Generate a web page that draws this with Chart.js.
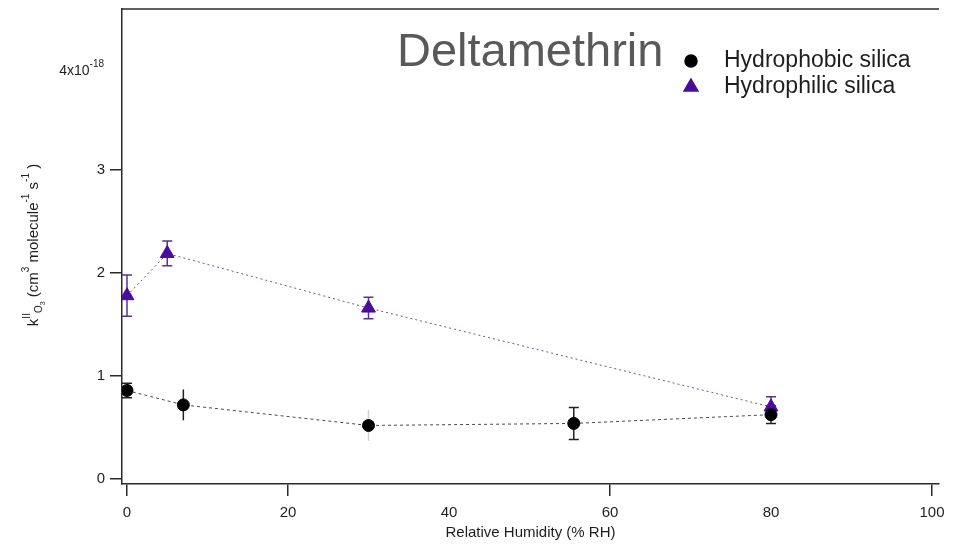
<!DOCTYPE html>
<html>
<head>
<meta charset="utf-8">
<script src="https://cdn.jsdelivr.net/npm/chart.js@4.4.1/dist/chart.umd.min.js"></script>
<style>
  html, body { margin: 0; padding: 0; background: #fff; }
  #wrap { width: 957px; height: 547px; position: relative; }
</style>
</head>
<body>
<div id="wrap"><canvas id="chart"></canvas></div>
<script>
// ── 資料 ────────────────────────────────────────────────────────────────────
// 相對濕度 (% RH) 與 k^II_O3 (×10^-18 cm^3 molecule^-1 s^-1)
const hydrophobicRH  = [0, 7, 30, 55.5, 80];
const hydrophobicK   = [0.86, 0.72, 0.52, 0.54, 0.625];
const hydrophobicErr = [0.07, 0.15, 0.15, 0.155, 0.085];

const hydrophilicRH  = [0, 5, 30, 80];
const hydrophilicK   = [1.78, 2.19, 1.66, 0.70];
const hydrophilicErr = [0.20, 0.12, 0.105, 0.10];

const xTickValues = [0, 20, 40, 60, 80, 100];
const xTickMarked = [0, 20, 60, 100];
const yTickValues = [0, 1, 2, 3, 4];

const titleText = 'Deltamethrin';
const seriesNames = ['Hydrophobic silica', 'Hydrophilic silica'];
const xTitle = 'Relative Humidity (% RH)';

// ── 樣式 ────────────────────────────────────────────────────────────────────
const FONT = "'Liberation Sans', Arial, Helvetica, sans-serif";
const AXIS_COLOR = '#2a2a2a';
const TEXT_COLOR = '#1e1e1e';
const PURPLE = '#4b0c9c';

function toPoints(xs, ys) {
  return xs.map(function (x, i) { return { x: x, y: ys[i] }; });
}

// ── 誤差棒 ──────────────────────────────────────────────────────────────────
const errorBarPlugin = {
  id: 'errorBars',
  beforeDatasetsDraw(chart) {
    const ctx = chart.ctx;
    const yScale = chart.scales.y;
    chart.data.datasets.forEach(function (ds, i) {
      const meta = chart.getDatasetMeta(i);
      ctx.save();
      ctx.lineWidth = 1.5;
      meta.data.forEach(function (pt, j) {
        const v = ds.data[j].y, e = ds.errors[j];
        const top = yScale.getPixelForValue(v + e);
        const bot = yScale.getPixelForValue(v - e);
        const faint = ds.faintBars && ds.faintBars.indexOf(j) >= 0;
        const capped = !(ds.noCaps && ds.noCaps.indexOf(j) >= 0);
        ctx.strokeStyle = faint ? 'rgba(0,0,0,0.18)' : ds.errorColor;
        ctx.beginPath();
        ctx.moveTo(pt.x, top);
        ctx.lineTo(pt.x, bot);
        if (capped && !faint) {
          ctx.moveTo(pt.x - 5, top); ctx.lineTo(pt.x + 5, top);
          ctx.moveTo(pt.x - 5, bot); ctx.lineTo(pt.x + 5, bot);
        }
        ctx.stroke();
      });
      ctx.restore();
    });
  }
};

// ── 標題、圖例、軸標題與上框線 ──────────────────────────────────────────────
function drawRich(ctx, segs, x, y) {
  segs.forEach(function (s) {
    ctx.font = s.size + 'px ' + FONT;
    ctx.fillText(s.t, x, y + s.dy);
    x += ctx.measureText(s.t).width;
  });
}
function richWidth(ctx, segs) {
  let w = 0;
  segs.forEach(function (s) {
    ctx.font = s.size + 'px ' + FONT;
    w += ctx.measureText(s.t).width;
  });
  return w;
}

const yTitleSegs = [
  { t: 'k', size: 15, dy: 0 },
  { t: 'II', size: 10, dy: -8 },
  { t: 'O', size: 10, dy: 4 },
  { t: '3', size: 7, dy: 7 },
  { t: ' (cm', size: 15, dy: 0 },
  { t: '3', size: 10, dy: -9 },
  { t: ' molecule', size: 15, dy: 0 },
  { t: '-1', size: 10, dy: -9 },
  { t: ' s', size: 15, dy: 0 },
  { t: '-1', size: 10, dy: -9 },
  { t: ' )', size: 15, dy: 0 }
];

const decorPlugin = {
  id: 'decor',
  afterDraw(chart) {
    const ctx = chart.ctx;
    const area = chart.chartArea;
    const yScale = chart.scales.y;
    ctx.save();

    // 上框線
    ctx.strokeStyle = AXIS_COLOR;
    ctx.lineWidth = 1.5;
    ctx.beginPath();
    ctx.moveTo(area.left, area.top);
    ctx.lineTo(area.right, area.top);
    ctx.stroke();

    // y 軸頂端刻度 4x10^-18
    ctx.fillStyle = TEXT_COLOR;
    ctx.textBaseline = 'alphabetic';
    ctx.textAlign = 'left';
    const y4 = yScale.getPixelForValue(yTickValues[4]);
    const expSegs = [{ t: '4x10', size: 14, dy: 0 }, { t: '-18', size: 10, dy: -8 }];
    drawRich(ctx, expSegs, 104 - richWidth(ctx, expSegs), y4 + 8);

    // y 軸標題（旋轉）
    ctx.translate(38, 245);
    ctx.rotate(-Math.PI / 2);
    drawRich(ctx, yTitleSegs, -richWidth(ctx, yTitleSegs) / 2, 0);
    ctx.setTransform(1, 0, 0, 1, 0, 0);

    // 標題
    ctx.fillStyle = '#595959';
    ctx.font = '47px ' + FONT;
    ctx.textBaseline = 'middle';
    ctx.fillText(titleText, 397, 53);

    // 圖例
    ctx.font = '23px ' + FONT;
    chart.data.datasets.forEach(function (ds, i) {
      const ly = 61 + i * 26;
      ctx.save();
      ctx.fillStyle = ds.pointBackgroundColor;
      ctx.strokeStyle = ds.pointBorderColor;
      Chart.helpers.drawPoint(ctx, {
        pointStyle: ds.pointStyle, radius: ds.pointRadius, rotation: 0, borderWidth: 1
      }, 691, ly);
      ctx.restore();
      ctx.fillStyle = TEXT_COLOR;
      ctx.fillText(seriesNames[i], 724, ly);
    });

    ctx.restore();
  }
};

// ── 圖表 ────────────────────────────────────────────────────────────────────
Chart.defaults.font.family = FONT;
Chart.defaults.color = TEXT_COLOR;

new Chart(document.getElementById('chart'), {
  type: 'scatter',
  data: {
    datasets: [
      {
        label: seriesNames[0],
        data: toPoints(hydrophobicRH, hydrophobicK),
        errors: hydrophobicErr,
        errorColor: '#222',
        noCaps: [1],
        faintBars: [2],
        showLine: true,
        borderColor: '#4a4a4a',
        borderWidth: 1,
        borderDash: [3, 3],
        pointStyle: 'circle',
        pointRadius: 6,
        pointBackgroundColor: '#000',
        pointBorderColor: '#000',
        pointHoverRadius: 6
      },
      {
        label: seriesNames[1],
        data: toPoints(hydrophilicRH, hydrophilicK),
        errors: hydrophilicErr,
        errorColor: '#5b2f9a',
        showLine: true,
        borderColor: '#6a5a94',
        borderWidth: 1,
        borderDash: [2, 3],
        pointStyle: 'triangle',
        pointRadius: 8,
        pointBackgroundColor: PURPLE,
        pointBorderColor: PURPLE,
        pointHoverRadius: 8
      }
    ]
  },
  options: {
    responsive: true,
    maintainAspectRatio: false,
    animation: false,
    layout: { padding: { left: 0, right: 18, top: 6, bottom: 0 } },
    plugins: { legend: { display: false }, tooltip: { enabled: false } },
    scales: {
      x: {
        type: 'linear',
        min: -0.62,
        max: 100.87,
        afterBuildTicks: function (scale) {
          scale.ticks = xTickValues.map(function (v) { return { value: v }; });
        },
        afterFit: function (scale) {
          scale.height = 63;
          scale.paddingLeft = 0; scale.paddingRight = 0;
        },
        border: { display: true, color: AXIS_COLOR, width: 1.5 },
        grid: {
          drawOnChartArea: false,
          drawTicks: true,
          tickLength: 12,
          lineWidth: 1.5,
          color: function (c) {
            return c.tick && xTickMarked.indexOf(c.tick.value) >= 0 ? AXIS_COLOR : 'rgba(0,0,0,0)';
          }
        },
        ticks: {
          autoSkip: false,
          maxRotation: 0,
          padding: 8,
          font: { size: 15 },
          color: TEXT_COLOR
        },
        title: {
          display: true,
          text: xTitle,
          font: { size: 15 },
          color: TEXT_COLOR,
          padding: { top: 0, bottom: 5 }
        }
      },
      y: {
        type: 'linear',
        min: -0.048,
        max: 4.563,
        afterBuildTicks: function (scale) {
          scale.ticks = yTickValues.map(function (v) { return { value: v }; });
        },
        afterFit: function (scale) {
          scale.width = 122;
          scale.paddingTop = 0; scale.paddingBottom = 0;
        },
        border: { display: true, color: AXIS_COLOR, width: 1.5 },
        grid: {
          drawOnChartArea: false,
          drawTicks: true,
          tickLength: 12,
          lineWidth: 1.5,
          color: function (c) {
            return c.tick && c.tick.value === 4 ? 'rgba(0,0,0,0)' : AXIS_COLOR;
          }
        },
        ticks: {
          padding: 5,
          font: { size: 15 },
          color: TEXT_COLOR,
          callback: function (v) { return v === 4 ? '' : String(v); }
        }
      }
    }
  },
  plugins: [errorBarPlugin, decorPlugin]
});
</script>
</body>
</html>
